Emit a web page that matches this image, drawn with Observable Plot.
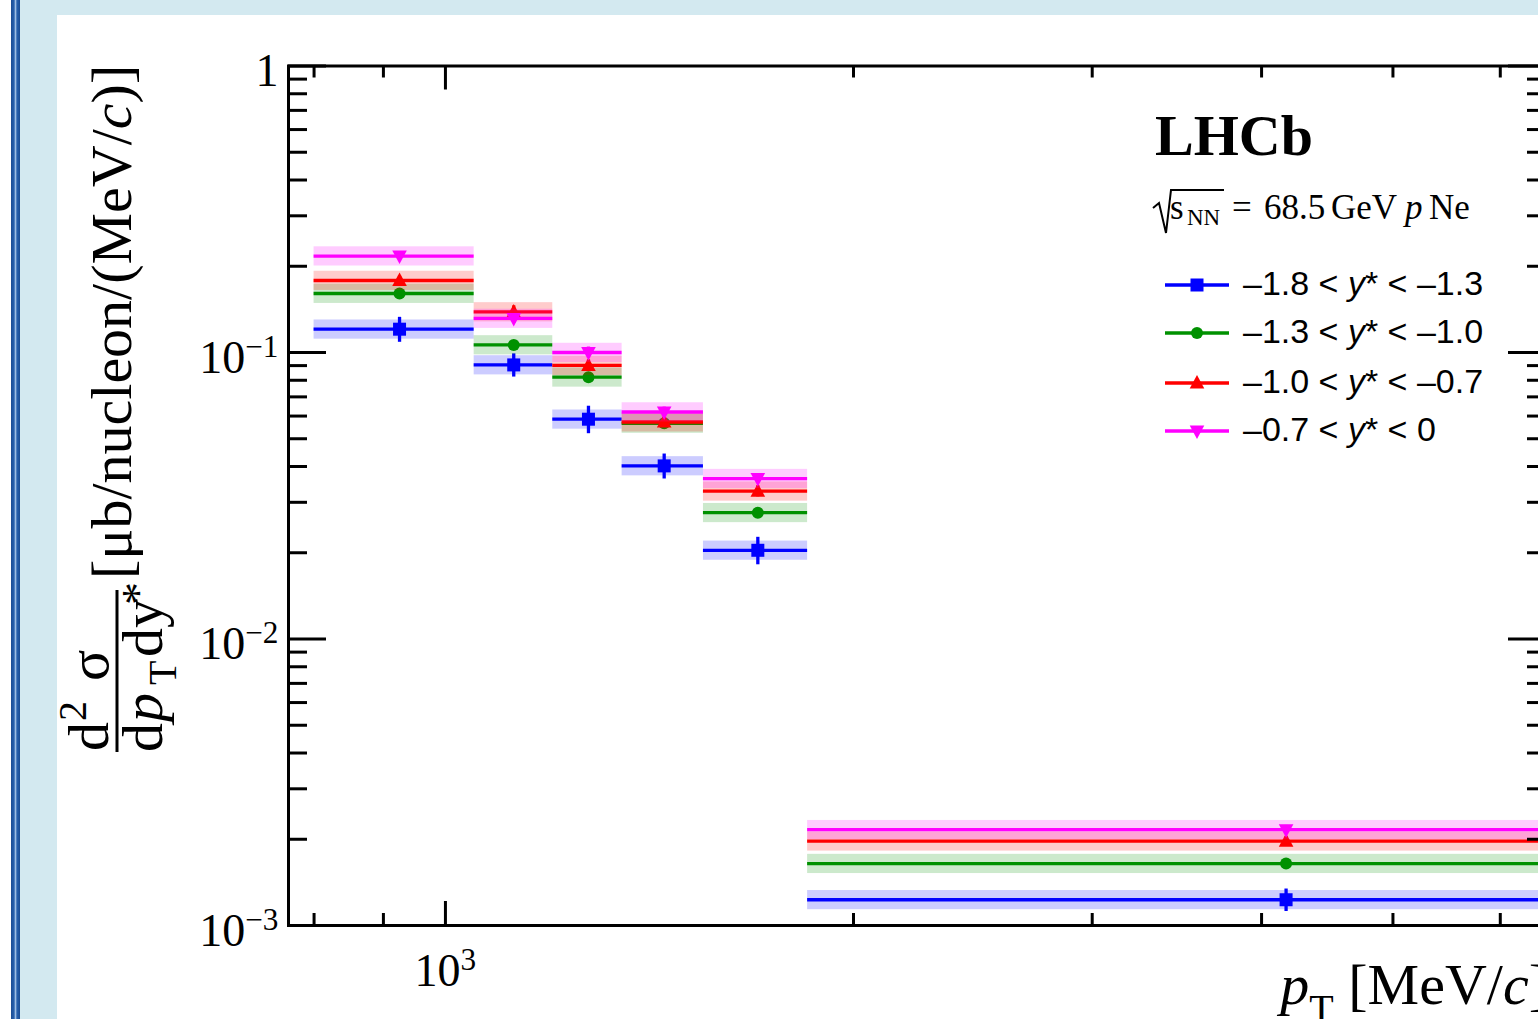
<!DOCTYPE html>
<html><head><meta charset="utf-8">
<script src="https://cdn.jsdelivr.net/npm/d3@7"></script>
<script src="https://cdn.jsdelivr.net/npm/@observablehq/plot@0.6"></script>
<style>
html,body{margin:0;padding:0;}
body{width:1538px;height:1019px;overflow:hidden;position:relative;background:#fff;}
#lb{position:absolute;left:20px;top:0;right:0;bottom:0;background:#d3e9f0;}
#stripe{position:absolute;left:11px;width:9px;top:0;bottom:0;background:linear-gradient(to right,#1b4c93 0px,#2861ad 3px,#9dbde3 4.5px,#2861ad 6px,#1b4c93 9px);}
#panel{position:absolute;left:57px;top:15px;right:-200px;bottom:-200px;background:#fff;}
#chart{position:absolute;left:0;top:0;width:1600px;height:1019px;}
</style></head><body>
<div id="lb"></div><div id="stripe"></div><div id="panel"></div><div id="chart"></div>
<script>
// ---- data ----
const binLow    = [800, 1050, 1200, 1350, 1550, 1850];
const binHigh   = [1050, 1200, 1350, 1550, 1850, 9400];
const ptCenter  = [925, 1123, 1275, 1450, 1700, 4170];

const seriesNames  = ["blue", "green", "red", "magenta"];
const seriesLabels = [["–1.8 < ", " < –1.3"], ["–1.3 < ", " < –1.0"], ["–1.0 < ", " < –0.7"], ["–0.7 < ", " < 0"]];
const seriesColors = ["#0000ff", "#009100", "#ff0000", "#ff00ff"];

const xsecBlue    = [0.1206, 0.0905, 0.0585, 0.0402, 0.0204, 0.00123];
const xsecGreen   = [0.1607, 0.1063, 0.0820, 0.0566, 0.0276, 0.001645];
const xsecRed     = [0.1784, 0.1386, 0.0901, 0.0572, 0.0328, 0.00197];
const xsecMagenta = [0.2171, 0.1315, 0.1000, 0.0620, 0.0363, 0.00216];

const statBlue    = [0.10, 0.093, 0.11, 0.10, 0.11, 0.09];
const statGreen   = [0.03, 0.03, 0.035, 0.035, 0.035, 0.03];
const statRed     = [0.035, 0.05, 0.045, 0.04, 0.045, 0.035];
const statMagenta = [0.03, 0.04, 0.045, 0.04, 0.04, 0.035];

const sysBlue     = [0.077, 0.077, 0.077, 0.077, 0.077, 0.077];
const sysGreen    = [0.077, 0.077, 0.077, 0.077, 0.077, 0.077];
const sysRed      = [0.077, 0.077, 0.077, 0.077, 0.077, 0.077];
const sysMagenta  = [0.077, 0.077, 0.077, 0.077, 0.077, 0.077];

const yMajorTicks = [0.001, 0.01, 0.1, 1];
const yTickLabels = ["10^−3", "10^−2", "10^−1", "1"];
const yMinorTicks = [2,3,4,5,6,7,8,9].flatMap(m => [m*1e-3, m*1e-2, m*1e-1]);
const xMajorTicks = [1000];
const xTickLabels = ["10^3"];
const xMinorTicks = [800, 900, 2000, 3000, 4000, 5000, 6000];

// ---- build table ----
const xsecs = [xsecBlue, xsecGreen, xsecRed, xsecMagenta];
const stats = [statBlue, statGreen, statRed, statMagenta];
const syss  = [sysBlue, sysGreen, sysRed, sysMagenta];
const rows = seriesNames.map((s, k) => binLow.map((lo, i) => ({
  series: s, lo, hi: binHigh[i], x: ptCenter[i], y: xsecs[k][i], stat: stats[k][i], sys: syss[k][i]
})));

// marker shapes
const symSquare  = {draw(c){ c.moveTo(-6.5,-6.5); c.lineTo(6.5,-6.5); c.lineTo(6.5,6.5); c.lineTo(-6.5,6.5); c.closePath(); }};
const symCircle  = {draw(c){ c.moveTo(6,0); c.arc(0,0,6,0,2*Math.PI); c.closePath(); }};
const symTriUp   = {draw(c){ c.moveTo(0,-8); c.lineTo(7.3,5.5); c.lineTo(-7.3,5.5); c.closePath(); }};
const symTriDown = {draw(c){ c.moveTo(0,8); c.lineTo(7.3,-5.5); c.lineTo(-7.3,-5.5); c.closePath(); }};
const symbols = [symSquare, symCircle, symTriUp, symTriDown];

const W = 1600, H = 1019;
const mL = 288, mR = W - 1546, mT = 65.5, mB = H - 925;
const FW = W - mL - mR, FH = H - mT - mB;
const serif = "Liberation Serif";

const marks = [];
rows.forEach((data, k) => {
  const col = seriesColors[k];
  marks.push(Plot.rect(data, {x1: "lo", x2: "hi", y1: d => d.y * (1 - d.sys), y2: d => d.y * (1 + d.sys), fill: col, fillOpacity: 0.2}));
  marks.push(Plot.ruleY(data, {y: "y", x1: "lo", x2: "hi", stroke: col, strokeWidth: 3.3}));
  marks.push(Plot.ruleX(data, {x: "x", y1: d => d.y * (1 - d.stat), y2: d => d.y * (1 + d.stat), stroke: col, strokeWidth: 3.3}));
  marks.push(Plot.dot(data, {x: "x", y: "y", symbol: symbols[k], fill: col, stroke: "none"}));
});

const tk = {stroke: "#000", strokeWidth: 3};
marks.push(
  Plot.tickY(yMajorTicks, {y: d => d, insetRight: FW - 38, ...tk}),
  Plot.tickY(yMinorTicks, {y: d => d, insetRight: FW - 19, ...tk}),
  Plot.tickY(yMajorTicks, {y: d => d, insetLeft: FW - 38, ...tk}),
  Plot.tickY(yMinorTicks, {y: d => d, insetLeft: FW - 19, ...tk}),
  Plot.tickX(xMajorTicks, {x: d => d, insetTop: FH - 24, ...tk}),
  Plot.tickX(xMinorTicks, {x: d => d, insetTop: FH - 12, ...tk}),
  Plot.tickX(xMajorTicks, {x: d => d, insetBottom: FH - 24, ...tk}),
  Plot.tickX(xMinorTicks, {x: d => d, insetBottom: FH - 12, ...tk}),
  Plot.frame({stroke: "#000", strokeWidth: 3}),
  Plot.text(yMajorTicks, {y: d => d, text: (d, i) => yTickLabels[i], frameAnchor: "left", dx: -10, textAnchor: "end", lineAnchor: "bottom", dy: 20, fontSize: 46, fontFamily: serif, fill: "#000"}),
  Plot.text(xMajorTicks, {x: d => d, text: (d, i) => xTickLabels[i], frameAnchor: "bottom", textAnchor: "middle", lineAnchor: "bottom", dy: 60, fontSize: 46, fontFamily: serif, fill: "#000"})
);

const svg = Plot.plot({
  width: W, height: H,
  marginLeft: mL, marginRight: mR, marginTop: mT, marginBottom: mB,
  x: {type: "log", domain: [766, 6490], axis: null},
  y: {type: "log", domain: [0.001, 1], axis: null},
  style: {background: "transparent", maxWidth: "none", overflow: "hidden"},
  marks
});
document.getElementById("chart").appendChild(svg);

const S = d3.select(svg);
// superscripts in tick labels
S.selectAll("text").each(function() {
  const t = this.textContent;
  if (t.includes("^")) {
    const [b, s] = t.split("^");
    const sel = d3.select(this);
    sel.text(null);
    sel.append("tspan").text(b);
    sel.append("tspan").attr("font-size", "0.68em").attr("dy", -16).text(s);
  }
});

const A = S.append("g").attr("text-anchor", "start").attr("fill", "#000");

// y-axis title (rotated)
const gy = A.append("g").attr("transform", "translate(117,671) rotate(-90)")
  .attr("font-family", serif).attr("font-size", 58);
gy.append("line").attr("x1", -81).attr("x2", 81).attr("y1", 0).attr("y2", 0).attr("stroke", "#000").attr("stroke-width", 3);
const num = gy.append("text").attr("y", -9);
num.append("tspan").attr("x", -80).text("d");
num.append("tspan").attr("x", -50).attr("dy", -22).attr("font-size", 40).text("2");
num.append("tspan").attr("x", -10).attr("dy", 22).text("σ");
const den = gy.append("text").attr("y", 45);
den.append("tspan").attr("x", -81).text("d");
den.append("tspan").attr("x", -51).attr("font-style", "italic").text("p");
den.append("tspan").attr("x", -14).attr("dy", 14).attr("font-size", 40).text("T");
den.append("tspan").attr("x", 14).attr("dy", -14).text("dy");
den.append("tspan").attr("x", 66).attr("dy", -8).attr("font-size", 46).text("*");
const br = gy.append("text").attr("x", 92).attr("y", 14);
br.append("tspan").text("[μb/nucleon/(MeV/");
br.append("tspan").attr("font-style", "italic").text("c");
br.append("tspan").text(")]");

// x-axis title
const xt = A.append("text").attr("x", 1548).attr("y", 1004).attr("text-anchor", "end")
  .attr("font-family", serif).attr("font-size", 58);
xt.append("tspan").attr("font-style", "italic").text("p");
xt.append("tspan").attr("font-size", 40).attr("dy", 18).text("T");
xt.append("tspan").attr("dy", -18).text(" [MeV/");
xt.append("tspan").attr("font-style", "italic").text("c");
xt.append("tspan").text("]");

// LHCb label
A.append("text").attr("x", 1155).attr("y", 155).attr("font-family", serif).attr("font-weight", "bold")
  .attr("font-size", 58).text("LHCb");

// sqrt(s_NN) line
A.append("path").attr("d", "M1153,208 L1159,203 L1166,233 L1171,190 L1224,190")
  .attr("fill", "none").attr("stroke", "#000").attr("stroke-width", 2);
const en = A.append("text").attr("y", 219).attr("font-family", serif).attr("font-size", 35);
en.append("tspan").attr("x", 1170).text("s");
en.append("tspan").attr("x", 1187).attr("dy", 6).attr("font-size", 23).text("NN");
en.append("tspan").attr("x", 1232).attr("dy", -6).text("=");
en.append("tspan").attr("x", 1264).text("68.5");
en.append("tspan").attr("x", 1331).text("GeV");
en.append("tspan").attr("x", 1405).attr("font-style", "italic").text("p");
en.append("tspan").attr("x", 1429).text("Ne");

// legend
const legRows = [285, 333, 383, 431];
seriesNames.forEach((s, k) => {
  const yk = legRows[k];
  A.append("line").attr("x1", 1165).attr("x2", 1229).attr("y1", yk).attr("y2", yk)
    .attr("stroke", seriesColors[k]).attr("stroke-width", 3.3);
  A.append("path").attr("transform", `translate(1197,${yk})`).attr("d", d3.symbol(symbols[k])())
    .attr("fill", seriesColors[k]);
  const t = A.append("text").attr("x", 1243).attr("y", yk + 10).attr("font-family", "Liberation Sans")
    .attr("font-size", 34);
  t.append("tspan").text(seriesLabels[k][0]);
  t.append("tspan").attr("font-style", "italic").text("y");
  t.append("tspan").text("*");
  t.append("tspan").text(seriesLabels[k][1]);
});
</script></body></html>
